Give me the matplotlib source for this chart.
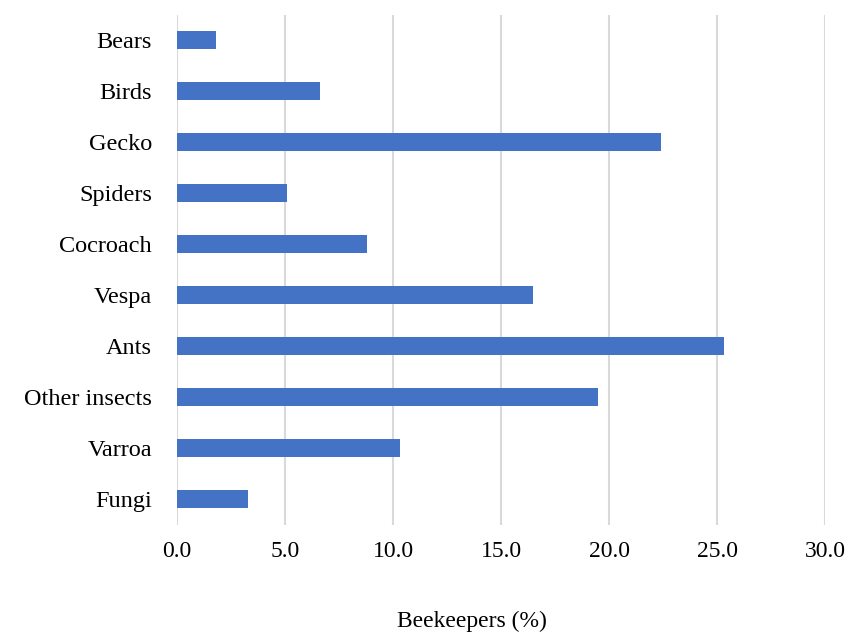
import matplotlib
matplotlib.use("Agg")
import matplotlib.pyplot as plt

categories = ["Bears", "Birds", "Gecko", "Spiders", "Cocroach", "Vespa",
              "Ants", "Other insects", "Varroa", "Fungi"]
values = [1.8, 6.6, 22.4, 5.1, 8.8, 16.5, 25.3, 19.5, 10.3, 3.3]
xticks = [0, 5, 10, 15, 20, 25, 30]
xlabel = "Beekeepers (%)"

plt.rcParams["font.family"] = ["Liberation Serif", "DejaVu Serif"]

fig = plt.figure(figsize=(8.48, 6.37), dpi=100)
ax = fig.add_axes([0.2087, 0.1766, 0.973 - 0.2087, 0.977 - 0.1766])

pos = list(range(len(categories)))
ax.barh(pos, values, height=0.35, color="#4472C4", zorder=3)
ax.set_yticks(pos)
ax.set_yticklabels(categories, fontsize=17.5)
ax.set_ylim(len(categories) - 0.5, -0.5)

ax.set_xlim(0, 30)
ax.set_xticks(xticks)
ax.set_xticklabels([f"{t:.1f}" for t in xticks], fontsize=17)
ax.xaxis.grid(True, color="#d9d9d9", linewidth=1.5, zorder=0)
ax.set_xlabel(xlabel, fontsize=17)
ax.xaxis.set_label_coords(0.455, -0.17)

for s in ax.spines.values():
    s.set_visible(False)
ax.tick_params(axis="both", length=0)
ax.tick_params(axis="x", pad=12)
ax.tick_params(axis="y", pad=18)

fig.savefig("out.png", dpi=100)
